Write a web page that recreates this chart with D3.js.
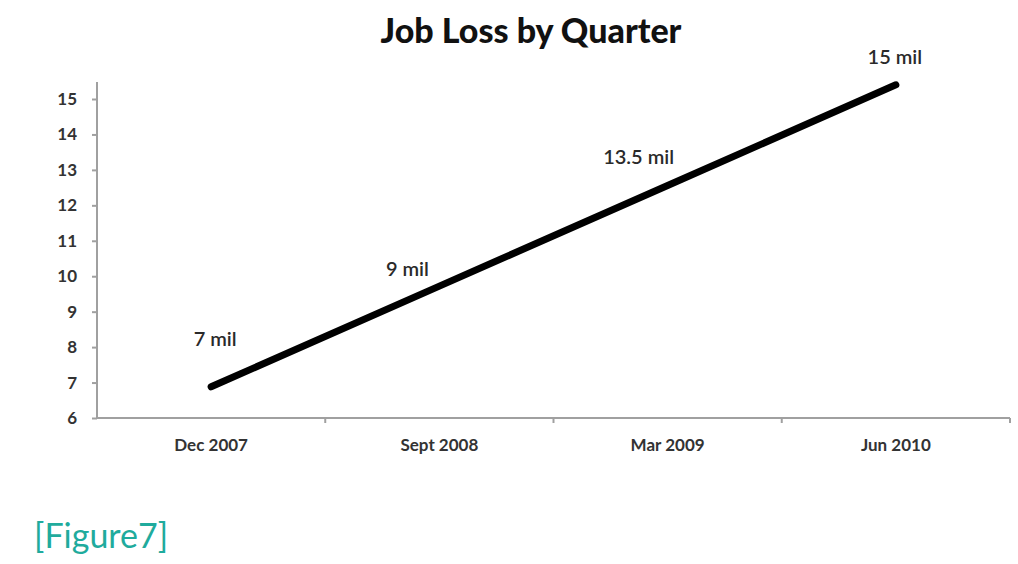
<!DOCTYPE html>
<html>
<head>
<meta charset="utf-8">
<script src="https://cdn.jsdelivr.net/npm/d3@7"></script>
<style>
  body { margin: 0; background: #fff; }
  svg { display: block; }
</style>
</head>
<body>
<script>
var quarters = ['Dec 2007', 'Sept 2008', 'Mar 2009', 'Jun 2010'];
var jobLoss = [6.88, 9.72, 12.56, 15.4];
var labels = ['7 mil', '9 mil', '13.5 mil', '15 mil'];
var yTicks = [6, 7, 8, 9, 10, 11, 12, 13, 14, 15];

var width = 1018;
var height = 564;
var margin = {top: 82, left: 97, right: 8, bottom: 146};

var svg = d3.select('body').append('svg')
  .attr('width', width)
  .attr('height', height);

var x = d3.scaleBand()
  .domain(quarters)
  .range([margin.left, width - margin.right]);

var y = d3.scaleLinear()
  .domain([6, 15])
  .range([418, 99]);

// title
svg.append('text')
  .attr('x', 531)
  .attr('y', 43)
  .attr('text-anchor', 'middle')
  .style('font-family', 'Lato, sans-serif')
  .style('font-weight', 900)
  .style('font-size', '34px')
  .style('fill', '#111')
  .text('Job Loss by Quarter');

// y axis
var yAxis = svg.append('g')
  .attr('transform', 'translate(' + margin.left + ',0)')
  .call(d3.axisLeft(y).tickValues(yTicks).tickSize(5).tickPadding(15));

yAxis.select('.domain').attr('d', 'M0,' + margin.top + 'V' + y(6));

// x axis, ticks sit on band edges
var xAxis = svg.append('g')
  .attr('transform', 'translate(0,' + y(6) + ')')
  .call(d3.axisBottom(x).tickSize(0).tickPadding(21));

xAxis.select('.domain').attr('d', 'M' + margin.left + ',0H' + (width - margin.right));

var edges = quarters.slice(1).map(function(q) { return x(q); });
edges.push(width - margin.right);
xAxis.selectAll('.edge')
  .data(edges)
  .enter().append('line')
    .attr('class', 'edge')
    .attr('x1', function(d) { return d; })
    .attr('x2', function(d) { return d; })
    .attr('y1', 0)
    .attr('y2', 5);

svg.selectAll('.domain, .tick line, .edge')
  .style('stroke', '#a0a0a0')
  .style('stroke-width', 2);

svg.selectAll('.tick text')
  .style('font-family', 'Lato, sans-serif')
  .style('font-weight', 'bold')
  .style('font-size', '17px')
  .style('fill', '#333');

// the line
var line = d3.line()
  .x(function(d, i) { return x(quarters[i]) + x.bandwidth() / 2; })
  .y(function(d) { return y(d); });

svg.append('path')
  .datum(jobLoss)
  .attr('d', line)
  .style('fill', 'none')
  .style('stroke', '#000')
  .style('stroke-width', 7)
  .style('stroke-linecap', 'round');

// hand placed value labels
var labelShift = [[4, -41], [-32, -10], [-29, -21], [-1, -21]];
svg.selectAll('.value-label')
  .data(labels)
  .enter().append('text')
    .attr('class', 'value-label')
    .attr('x', function(d, i) { return x(quarters[i]) + x.bandwidth() / 2 + labelShift[i][0]; })
    .attr('y', function(d, i) { return y(jobLoss[i]) + labelShift[i][1]; })
    .attr('text-anchor', 'middle')
    .style('font-family', 'Lato, sans-serif')
    .style('font-weight', 600)
    .style('font-size', '20px')
    .style('fill', '#2a2a2a')
    .text(function(d) { return d; });

svg.append('text')
  .attr('x', 34)
  .attr('y', 548)
  .style('font-family', 'Lato, sans-serif')
  .style('font-size', '34px')
  .style('fill', '#1fab9d')
  .text('[Figure7]');
</script>
</body>
</html>
